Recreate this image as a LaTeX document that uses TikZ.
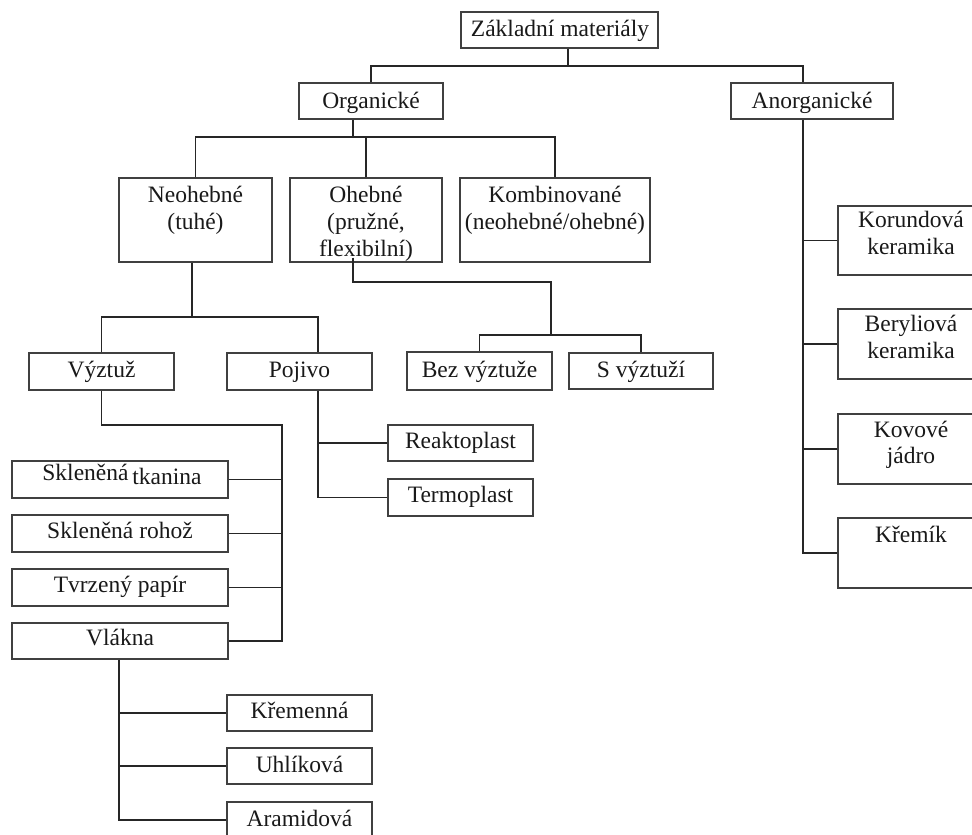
\documentclass[tikz,border=0pt]{standalone}
\usepackage{fontspec}
\setmainfont{Liberation Serif}
\newcommand{\tfont}{\fontsize{23.5}{27}\selectfont}
\tikzset{
  box/.style={draw=black!75, line width=1.3pt, rectangle, inner sep=0pt},
  txt/.style={inner sep=0pt, anchor=base, font=\tfont, text=black!90},
  conn/.style={draw=black!85, line width=1.3pt}
}
\begin{document}
\begin{tikzpicture}[x=1pt,y=-1pt]
\useasboundingbox (0,0) rectangle (972,835);
\fill[white] (0,0) rectangle (972,835);
\begin{scope}
\clip (0,0) rectangle (972,835);
% boxes
\node[box, minimum width=197pt, minimum height=36pt] (zak) at (559.5,30) {};
\node[box, minimum width=144pt, minimum height=36pt] (org) at (371,101) {};
\node[box, minimum width=162pt, minimum height=36pt] (ano) at (812,101) {};
\node[box, minimum width=153pt, minimum height=84pt] (neo) at (195.5,220) {};
\node[box, minimum width=152pt, minimum height=84pt] (oh) at (366,220) {};
\node[box, minimum width=190pt, minimum height=84pt] (komb) at (555,220) {};
\node[box, minimum width=145pt, minimum height=37pt] (vyz) at (101.5,371.5) {};
\node[box, minimum width=145pt, minimum height=37pt] (poj) at (299.5,371.5) {};
\node[box, minimum width=145pt, minimum height=38pt] (bez) at (479.5,371) {};
\node[box, minimum width=144pt, minimum height=36pt] (sv) at (641,371) {};
\node[box, minimum width=145pt, minimum height=36pt] (reak) at (460.5,443) {};
\node[box, minimum width=145pt, minimum height=37pt] (term) at (460.5,497.5) {};
\node[box, minimum width=216pt, minimum height=37pt] (skt) at (120,479.5) {};
\node[box, minimum width=216pt, minimum height=37pt] (skr) at (120,533.5) {};
\node[box, minimum width=216pt, minimum height=37pt] (tvr) at (120,587.5) {};
\node[box, minimum width=216pt, minimum height=36pt] (vla) at (120,641) {};
\node[box, minimum width=145pt, minimum height=36pt] (kre) at (299.5,713) {};
\node[box, minimum width=145pt, minimum height=36pt] (uhl) at (299.5,766) {};
\node[box, minimum width=145pt, minimum height=36pt] (ara) at (299.5,820) {};
\node[box, minimum width=146pt, minimum height=69pt] (kor) at (911,240.5) {};
\node[box, minimum width=146pt, minimum height=70pt] (ber) at (911,344) {};
\node[box, minimum width=146pt, minimum height=70pt] (kov) at (911,449) {};
\node[box, minimum width=146pt, minimum height=70pt] (krm) at (911,553) {};
% texts
\node[txt] at (560,36) {Základní materiály};
\node[txt] at (371,108) {Organické};
\node[txt] at (812,108) {Anorganické};
\node[txt] at (195.5,202) {Neohebné};
\node[txt] at (195.5,229) {(tuhé)};
\node[txt] at (366,202) {Ohebné};
\node[txt] at (366,229) {(pružné,};
\node[txt] at (366,256) {flexibilní)};
\node[txt] at (555,202) {Kombinované};
\node[txt] at (555,229) {(neohebné/ohebné)};
\node[txt] at (101.5,377) {Výztuž};
\node[txt] at (299.5,377) {Pojivo};
\node[txt] at (479.5,377) {Bez výztuže};
\node[txt] at (641,377) {S výztuží};
\node[txt] at (460.5,448) {Reaktoplast};
\node[txt] at (460.5,502) {Termoplast};
\node[txt] at (122,484) {\raisebox{4pt}{Skleněná}\hspace{-2pt} tkanina};
\node[txt] at (120,538) {Skleněná rohož};
\node[txt] at (120,592) {Tvrzený papír};
\node[txt] at (120,645) {Vlákna};
\node[txt] at (299.5,718) {Křemenná};
\node[txt] at (299.5,772) {Uhlíková};
\node[txt] at (299.5,826) {Aramidová};
\node[txt] at (911,227) {Korundová};
\node[txt] at (911,254) {keramika};
\node[txt] at (911,331) {Beryliová};
\node[txt] at (911,358) {keramika};
\node[txt] at (911,437) {Kovové};
\node[txt] at (911,463) {jádro};
\node[txt] at (911,542) {Křemík};
% junction coordinates
\coordinate (j1) at (568,66);
\coordinate (j2) at (353,137);
\coordinate (j3) at (192,317);
\coordinate (j4) at (551,282);
\coordinate (j5) at (551,335);
\coordinate (j6) at (282,425);
% connectors
\draw[conn] ([xshift=8.5pt]zak.south) -- (j1);
\draw[conn] (org.north) |- (j1) -| ([xshift=-9pt]ano.north);
\draw[conn] ([xshift=-18pt]org.south) -- (j2);
\draw[conn] (neo.north) |- (j2) -| (komb.north);
\draw[conn] (oh.north) -- (oh.north |- j2);
\draw[conn] ([xshift=-3.5pt]neo.south) -- (j3);
\draw[conn] (vyz.north) |- (j3) -| ([xshift=18.5pt]poj.north);
\draw[conn] ([xshift=-13pt,yshift=5pt]oh.south) |- (j4) -- (j5);
\draw[conn] (bez.north) |- (j5) -| (sv.north);
\draw[conn] (vyz.south) |- (j6) |- (vla.east);
\draw[conn] (skt.east) -- (skt.east -| j6);
\draw[conn] (skr.east) -- (skr.east -| j6);
\draw[conn] (tvr.east) -- (tvr.east -| j6);
\draw[conn] ([xshift=18.5pt]poj.south) |- (term.west);
\draw[conn] (reak.west) -| ([xshift=18.5pt]poj.south);
\draw[conn] ([xshift=-1pt]vla.south) |- (ara.west);
\draw[conn] (kre.west) -| ([xshift=-1pt]vla.south);
\draw[conn] (uhl.west) -| ([xshift=-1pt]vla.south);
\draw[conn] ([xshift=-9pt]ano.south) |- (krm.west);
\draw[conn] (kor.west) -| ([xshift=-9pt]ano.south);
\draw[conn] (ber.west) -| ([xshift=-9pt]ano.south);
\draw[conn] (kov.west) -| ([xshift=-9pt]ano.south);
\end{scope}
\end{tikzpicture}
\end{document}
